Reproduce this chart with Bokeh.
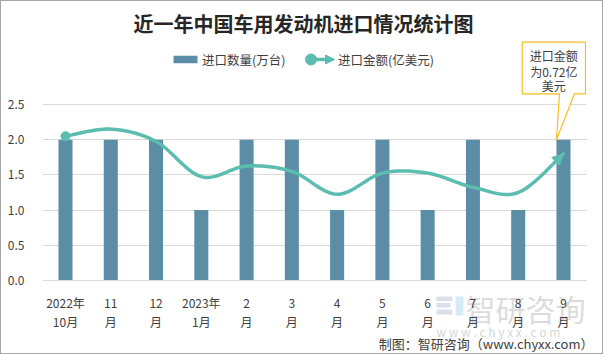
import numpy as np
from bokeh.plotting import figure
from bokeh.models import Range1d, FixedTicker, Label, Arrow, NormalHead
from bokeh.core.properties import value
from bokeh.embed import file_html
from bokeh.resources import INLINE

# ---------------- data ----------------
TITLE = "近一年中国车用发动机进口情况统计图"
MONTHS = ["2022年\n10月", "11\n月", "12\n月", "2023年\n1月", "2\n月", "3\n月",
          "4\n月", "5\n月", "6\n月", "7\n月", "8\n月", "9\n月"]
QTY_NAME = "进口数量(万台)"
AMT_NAME = "进口金额(亿美元)"
QTY = [2, 2, 2, 1, 2, 2, 1, 2, 1, 2, 1, 2]
AMT = [0.82, 0.86, 0.79, 0.59, 0.65, 0.62, 0.49, 0.61, 0.61, 0.53, 0.50, 0.72]
Y_TICKS = [0.0, 0.5, 1.0, 1.5, 2.0, 2.5]
AMT_AXIS_MAX = 1.0          # hidden secondary axis maximum
SOURCE = "制图：智研咨询（www.chyxx.com）"
WATERMARK = "智研咨询"
WATERMARK_URL = "w w w . c h y x x . c o m"

# ---------------- style / layout ----------------
FONT = "Noto Sans CJK SC"
BAR_COLOR = "#5B8DA6"
LINE_COLOR = "#5BBDB0"
GRID_COLOR = "#D9D9D9"
TEXT_COLOR = "#404040"
CALLOUT_COLOR = "#F5BE1E"
BAR_W = 0.31

BORDER = 1
W, H = 603, 354
BL = 41
FW, FH = W - BL, H
N = len(MONTHS)
X_UNIT = 45.27          # px per category
X0_PAGE = 65            # page px of first category centre
Y_UNIT = 70.4           # px per unit of primary axis
Y0_PAGE = 280           # page px of y = 0
X_START = -(X0_PAGE - BORDER - BL) / X_UNIT
X_END = X_START + FW / X_UNIT
Y_END = (Y0_PAGE - BORDER) / Y_UNIT
Y_START = Y_END - FH / Y_UNIT


def xd(px):
    """page x pixel -> data x"""
    return X_START + (px - BORDER - BL) / X_UNIT


def yd(py):
    """page y pixel -> data y (primary axis)"""
    return Y_END - (py - BORDER) / Y_UNIT


def smooth(xs, ys, k=20):
    pts = np.column_stack([xs, ys]).astype(float)
    n = len(pts)
    out = []
    for i in range(n - 1):
        p0 = pts[max(i - 1, 0)]
        p1 = pts[i]
        p2 = pts[i + 1]
        p3 = pts[min(i + 2, n - 1)]
        c1 = p1 + (p2 - p0) / 6.0
        c2 = p2 - (p3 - p1) / 6.0
        t = np.linspace(0, 1, k, endpoint=(i == n - 2))[:, None]
        b = (1 - t) ** 3 * p1 + 3 * (1 - t) ** 2 * t * c1 + 3 * (1 - t) * t ** 2 * c2 + t ** 3 * p2
        out.append(b)
    return np.vstack(out)


p = figure(width=W, height=H, output_backend="svg", toolbar_location=None,
           x_range=Range1d(X_START, X_END), y_range=Range1d(Y_START, Y_END),
           min_border_left=BL, min_border_right=0, min_border_top=0,
           min_border_bottom=0, outline_line_color=None)
p.title.visible = False
p.styles = {"border": "1px solid #a6a6a6"}
p.extra_y_ranges = {"amt": Range1d(Y_START * AMT_AXIS_MAX / Y_TICKS[-1],
                                   Y_END * AMT_AXIS_MAX / Y_TICKS[-1])}

idx = list(range(N))

# axes
p.yaxis.ticker = FixedTicker(ticks=Y_TICKS)
p.yaxis.major_label_overrides = {t: f"{t:.1f}" for t in Y_TICKS}
p.yaxis.axis_line_color = None
p.yaxis.major_tick_line_color = None
p.yaxis.minor_tick_line_color = None
p.yaxis.major_label_standoff = 12
p.yaxis.major_label_text_font = FONT
p.yaxis.major_label_text_font_size = "12px"
p.yaxis.major_label_text_color = TEXT_COLOR

p.xaxis.fixed_location = 0
p.xaxis.bounds = (-0.5, N - 0.5)
p.xaxis.ticker = FixedTicker(ticks=idx)
p.xaxis.major_label_overrides = {i: m for i, m in enumerate(MONTHS)}
p.xaxis.axis_line_color = GRID_COLOR
p.xaxis.major_tick_line_color = None
p.xaxis.minor_tick_line_color = None
p.xaxis.major_label_standoff = 7
p.xaxis.major_label_text_font = FONT
p.xaxis.major_label_text_font_size = "12px"
p.xaxis.major_label_text_color = TEXT_COLOR
p.xaxis.major_label_text_line_height = 1.12

p.xgrid.grid_line_color = None
p.ygrid.grid_line_color = GRID_COLOR
p.ygrid.cross_bounds = (-0.5, N - 0.5)

# watermark (drawn first, behind everything)
p.quad(left=[xd(436), xd(436), xd(436)], right=[xd(452), xd(450), xd(452)],
       top=[yd(296), yd(302.5), yd(309)], bottom=[yd(300.5), yd(307), yd(314)],
       fill_color="#c3cddd", fill_alpha=0.6, line_color=None)
p.quad(left=[xd(455)], right=[xd(463)], top=[yd(296)], bottom=[yd(315)],
       fill_color="#bcdcf2", fill_alpha=0.6, line_color=None)
p.text([xd(465)], [yd(307)], text=[WATERMARK], text_font=value(FONT),
       text_font_size="30px", text_color="#b8b8b8", text_alpha=0.5,
       text_align="left", text_baseline="middle")
p.text([xd(436)], [yd(331)], text=[WATERMARK_URL], text_font=value(FONT),
       text_font_size="12px", text_color="#c4c4c4", text_alpha=0.7,
       text_align="left", text_baseline="middle")

# bars
p.vbar(x=idx, top=QTY, width=BAR_W, fill_color=BAR_COLOR, line_color=None)

# smooth amount line on hidden secondary axis
curve = smooth(idx, AMT)
p.line(curve[:, 0], curve[:, 1], line_color=LINE_COLOR, line_width=3.5,
       y_range_name="amt", line_cap="round")
p.scatter([idx[0]], [AMT[0]], size=9, marker="circle", fill_color=LINE_COLOR,
          line_color=LINE_COLOR, y_range_name="amt")
back = curve[-5]
p.add_layout(Arrow(end=NormalHead(size=11, fill_color=LINE_COLOR, line_color=LINE_COLOR),
                   x_start=back[0], y_start=back[1], x_end=curve[-1, 0], y_end=curve[-1, 1],
                   line_alpha=0, y_range_name="amt"))

# title
p.add_layout(Label(x=xd(303), y=yd(22.5), text=TITLE, text_align="center",
                   text_baseline="middle", text_font=FONT, text_font_size="20px",
                   text_font_style="bold", text_color="#262626"))

# legend (manual)
ly = yd(59)
p.rect([xd(185)], [ly], width=24 / X_UNIT, height=7.5 / Y_UNIT,
       fill_color=BAR_COLOR, line_color=None)
p.text([xd(201.5)], [ly], text=[QTY_NAME], text_font=value(FONT), text_font_size="12.5px",
       text_color=TEXT_COLOR, text_baseline="middle", text_align="left")
p.line([xd(306), xd(328)], [ly, ly], line_color=LINE_COLOR, line_width=3.5)
p.scatter([xd(310.5)], [ly], size=11, marker="circle", fill_color=LINE_COLOR,
          line_color=LINE_COLOR)
p.add_layout(Arrow(end=NormalHead(size=9, fill_color=LINE_COLOR, line_color=LINE_COLOR),
                   x_start=xd(320), y_start=ly, x_end=xd(334), y_end=ly, line_alpha=0))
p.text([xd(337.5)], [ly], text=[AMT_NAME], text_font=value(FONT), text_font_size="12.5px",
       text_color=TEXT_COLOR, text_baseline="middle", text_align="left")

# callout for last amount
tip_x = idx[-1] - BAR_W / 2
tip_y = QTY[-1]
bx0, bx1, by0, by1 = xd(521.7), xd(585), yd(41.7), yd(93.3)
px0, px1 = xd(559), xd(574)
p.patch([bx0, bx1, bx1, px1, tip_x, px0, bx0], [by0, by0, by1, by1, tip_y, by1, by1],
        fill_color="white", line_color=CALLOUT_COLOR, line_width=1.2)
call_lines = ["进口金额", f"为{AMT[-1]}亿", "美元"]
p.text([xd(553.3)] * 3, [yd(55), yd(70.5), yd(85)], text=call_lines,
       text_font=value(FONT), text_font_size="12px", text_color=TEXT_COLOR,
       text_align="center", text_baseline="middle")

# source
p.text([xd(593)], [yd(343)], text=[SOURCE], text_font=value(FONT),
       text_font_size="13px", text_color=TEXT_COLOR,
       text_align="right", text_baseline="middle")

open("out.html", "w").write(file_html(p, INLINE))
